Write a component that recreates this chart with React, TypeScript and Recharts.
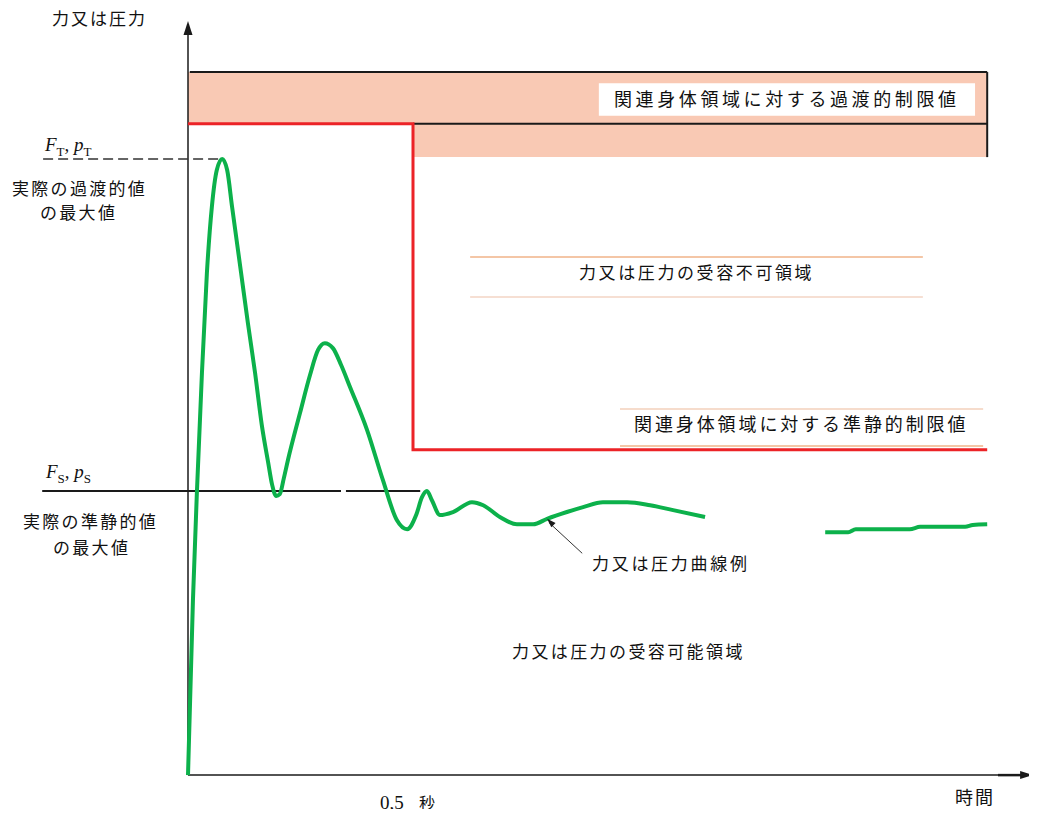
import {
  ComposedChart,
  Line,
  ReferenceArea,
  ReferenceLine,
  Scatter,
  XAxis,
  YAxis,
} from "recharts";

// time in s, force as % of the transient peak
const CURVE_T = [
  0, 0.011, 0.02, 0.031, 0.042, 0.053, 0.064, 0.076, 0.087, 0.098, 0.118, 0.133, 0.149,
  0.164, 0.178, 0.187, 0.196, 0.204, 0.213, 0.222, 0.249, 0.271, 0.289, 0.304, 0.322, 0.34,
  0.36, 0.398, 0.433, 0.464, 0.487, 0.507, 0.52, 0.531, 0.542, 0.56, 0.589, 0.631, 0.656,
  0.693, 0.731, 0.767, 0.798, 0.842, 0.878, 0.922, 0.976, 1.027, 1.078, 1.149, 1.2, 1.416,
  1.467, 1.484, 1.604, 1.627, 1.727, 1.744, 1.776,
];
const CURVE_F = [
  0, 28.4, 46.3, 65.3, 81.5, 92.2, 98.2, 100, 98.2, 92.2, 81.5, 73.4, 65.3, 56.8, 50.8, 47.1,
  45.3, 45.6, 48.2, 51.1, 58.8, 64.9, 69.0, 70.1, 69.3, 66.6, 63.0, 56.0, 47.9, 41.4, 39.9,
  42.2, 45.1, 46.1, 44.6, 42.2, 42.7, 44.3, 43.8, 41.9, 40.7, 40.7, 41.6, 42.7, 43.5, 44.3,
  44.3, 43.8, 43.0, 41.9, null, 39.4, 39.4, 39.9, 39.9, 40.3, 40.3, 40.6, 40.7,
];
const LIMIT_T = [0, 0.5, 1.776];
const LIMIT_F = [105.7, 52.8, 52.8];

const F_T = 100;
const F_S = 46.1;
const BAND_TOP = 114.1;
const BAND_MID = 105.7;
const BAND_LOW = 100.3;
const T_STEP = 0.5;
const T_END = 1.776;

const curve = CURVE_T.map((t, i) => ({ t, f: CURVE_F[i] }));
const limit = LIMIT_T.map((t, i) => ({ t, f: LIMIT_F[i] }));

const INK = "#1a1a1a";
const PINK = "#f9c9b4";
const PEACH = "#f4c6a6";
const JP = '"Noto Sans CJK JP", "Noto Sans", sans-serif';
const SERIF = '"Liberation Serif", "DejaVu Serif", serif';

function Head({ cx, cy, angle, len = 13, half = 4.5 }: any) {
  return (
    <polygon
      points={`0,0 ${-len},${-half} ${-len},${half}`}
      transform={`translate(${cx},${cy}) rotate(${angle})`}
      fill={INK}
    />
  );
}

function Txt({ x, cy, size = 17, ls = 2, font = JP, children, style }: any) {
  return (
    <div
      style={{
        position: "absolute",
        left: x - 8,
        top: cy - 8 - size * 0.55,
        fontSize: size,
        lineHeight: `${size}px`,
        letterSpacing: ls,
        whiteSpace: "nowrap",
        fontFamily: font,
        color: "#111",
        ...style,
      }}
    >
      {children}
    </div>
  );
}

function Sym({ x, cy, base, sub }: any) {
  return (
    <Txt x={x} cy={cy} size={19} ls={0} font={SERIF}>
      <i>F</i>
      <sub style={{ fontSize: 13 }}>{sub}</sub>, <i>{base}</i>
      <sub style={{ fontSize: 13 }}>{sub}</sub>
    </Txt>
  );
}

export default function App() {
  return (
    <div style={{ position: "relative", width: 1026, height: 801 }}>
      <ComposedChart width={1026} height={801} margin={{ top: 0, right: 0, bottom: 0, left: 0 }}>
        <XAxis type="number" dataKey="t" domain={[-0.4, 1.88]} allowDataOverflow hide />
        <YAxis type="number" domain={[-5.5, 124.5]} allowDataOverflow hide />

        <ReferenceArea x1={0} x2={T_END} y1={BAND_MID} y2={BAND_TOP} fill={PINK} fillOpacity={1} />
        <ReferenceArea x1={T_STEP} x2={T_END} y1={BAND_LOW} y2={BAND_MID} fill={PINK} fillOpacity={1} />
        <ReferenceArea x1={0.913} x2={1.749} y1={107.0} y2={112.3} fill="#fff" fillOpacity={1} />

        <ReferenceLine segment={[{ x: 0.004, y: BAND_TOP }, { x: T_END, y: BAND_TOP }]} stroke={INK} strokeWidth={2} />
        <ReferenceLine segment={[{ x: T_END, y: BAND_LOW }, { x: T_END, y: BAND_TOP }]} stroke={INK} strokeWidth={2} />
        <ReferenceLine segment={[{ x: T_STEP, y: BAND_MID }, { x: T_END, y: BAND_MID }]} stroke={INK} strokeWidth={2} />

        <ReferenceLine segment={[{ x: 0.627, y: 84.1 }, { x: 1.633, y: 84.1 }]} stroke={PEACH} strokeWidth={2} />
        <ReferenceLine segment={[{ x: 0.627, y: 77.6 }, { x: 1.633, y: 77.6 }]} stroke="#f3d4c4" strokeWidth={1.5} />
        <ReferenceLine segment={[{ x: 0.96, y: 59.4 }, { x: 1.767, y: 59.4 }]} stroke="#f3d0bb" strokeWidth={1.5} />
        <ReferenceLine segment={[{ x: 0.96, y: 53.4 }, { x: 1.767, y: 53.4 }]} stroke={PEACH} strokeWidth={2} />

        {/* axes */}
        <ReferenceLine segment={[{ x: 0, y: 0 }, { x: 0, y: 120.6 }]} stroke={INK} strokeWidth={1.5} />
        <ReferenceLine segment={[{ x: 0, y: 0 }, { x: 1.86, y: 0 }]} stroke={INK} strokeWidth={1.5} />
        <ReferenceLine segment={[{ x: 1.8, y: 0 }, { x: 1.86, y: 0 }]} stroke={INK} strokeWidth={2.5} />

        {/* peak markers */}
        <ReferenceLine
          segment={[{ x: -0.322, y: F_T }, { x: 0.071, y: F_T }]}
          stroke="#333"
          strokeWidth={1.5}
          strokeDasharray="10 5"
        />
        <ReferenceLine segment={[{ x: -0.324, y: F_S }, { x: 0.34, y: F_S }]} stroke={INK} strokeWidth={2} />
        <ReferenceLine segment={[{ x: 0.351, y: F_S }, { x: 0.516, y: F_S }]} stroke={INK} strokeWidth={2} />

        {/* callout */}
        <ReferenceLine segment={[{ x: 0.802, y: 41.0 }, { x: 0.876, y: 36.0 }]} stroke="#333" strokeWidth={1} />

        <Line
          data={limit}
          dataKey="f"
          type="stepAfter"
          stroke="#ec2327"
          strokeWidth={3}
          dot={false}
          activeDot={false}
          isAnimationActive={false}
        />
        <Line
          data={curve}
          dataKey="f"
          type="monotone"
          stroke="#0cb14b"
          strokeWidth={4}
          dot={false}
          activeDot={false}
          connectNulls={false}
          isAnimationActive={false}
        />

        <Scatter
          data={[{ t: 0, f: 122.4 }]}
          dataKey="f"
          isAnimationActive={false}
          shape={(p: any) => <Head cx={p.cx} cy={p.cy} angle={-90} len={14} half={4.5} />}
        />
        <Scatter
          data={[{ t: 1.878, f: 0 }]}
          dataKey="f"
          isAnimationActive={false}
          shape={(p: any) => <Head cx={p.cx} cy={p.cy} angle={0} len={13} half={4} />}
        />
        <Scatter
          data={[{ t: 0.798, f: 41.6 }]}
          dataKey="f"
          isAnimationActive={false}
          shape={(p: any) => <Head cx={p.cx} cy={p.cy} angle={-135} len={9} half={3} />}
        />
      </ComposedChart>

      <Txt x={52} cy={18} size={17} ls={2}>力又は圧力</Txt>
      <Txt x={614} cy={99} size={18} ls={3.6}>関連身体領域に対する過渡的制限値</Txt>
      <Txt x={579} cy={272} size={17} ls={2.6}>力又は圧力の受容不可領域</Txt>
      <Txt x={634} cy={424} size={18} ls={2.9}>関連身体領域に対する準静的制限値</Txt>

      <Sym x={45} cy={145} base="p" sub="T" />
      <Txt x={12} cy={188} size={17} ls={2.3}>実際の過渡的値</Txt>
      <Txt x={40} cy={212} size={17} ls={2.3}>の最大値</Txt>

      <Sym x={46} cy={472} base="p" sub="S" />
      <Txt x={23} cy={521} size={17} ls={2.3}>実際の準静的値</Txt>
      <Txt x={53} cy={547} size={17} ls={2.3}>の最大値</Txt>

      <Txt x={592} cy={563} size={17} ls={2.7}>力又は圧力曲線例</Txt>
      <Txt x={512} cy={651} size={17} ls={2.4}>力又は圧力の受容可能領域</Txt>

      <Txt x={380} cy={803} size={19} ls={0} font={SERIF}>0,5</Txt>
      <Txt x={419} cy={803} size={16} ls={0}>秒</Txt>
      <Txt x={955} cy={797} size={18} ls={2}>時間</Txt>
    </div>
  );
}
